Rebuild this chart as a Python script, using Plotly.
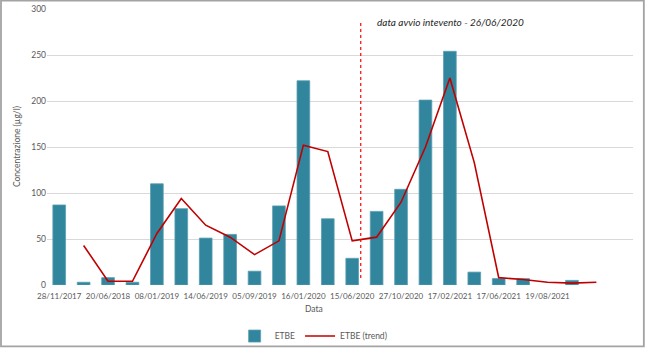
import plotly.graph_objects as go

# ETBE concentration per sampling campaign (µg/l); None = no measurement shown
etbe = [87, 3, 8, 3, 110, 83, 51, 55, 15, 86, 222, 72, 29, 80, 104, 201, 254,
        14, 7, 7, None, 5, None, None]
# trend series (moving average as plotted)
etbe_trend = [None, 43, 4, 4, 56, 94, 65, 52, 33, 48, 152, 145, 48, 52, 90,
              150, 225, 133, 8, 6, 3, 2, 3, None]
# sampling dates shown on the axis (every second campaign)
tick_labels = ["28/11/2017", "20/06/2018", "08/01/2019", "14/06/2019",
               "05/09/2019", "16/01/2020", "15/06/2020", "27/10/2020",
               "17/02/2021", "17/06/2021", "19/08/2021"]
tick_positions = list(range(0, 2 * len(tick_labels), 2))
positions = list(range(len(etbe)))

# start of remediation works: 26/06/2020 falls just after the 15/06/2020 campaign
start_pos = 12.35
start_label = "data avvio intevento - 26/06/2020"

FONT = "Lato, 'Open Sans', sans-serif"
GREY = "#595959"

fig = go.Figure()
fig.add_trace(go.Bar(
    x=positions, y=etbe, name="ETBE", width=0.52,
    marker=dict(color="#31859c", line=dict(color="#5a9fb1", width=0.8)),
))
fig.add_trace(go.Scatter(
    x=positions, y=etbe_trend, name="ETBE (trend)", mode="lines",
    line=dict(color="#c00000", width=1.6),
))

fig.update_layout(
    width=645, height=348,
    margin=dict(l=47, r=12, t=9, b=63, autoexpand=False),
    paper_bgcolor="white", plot_bgcolor="white",
    font=dict(family=FONT, size=8, color=GREY),
    showlegend=True,
    legend=dict(orientation="h", x=0.455, xanchor="center", y=-0.185,
                yanchor="middle", font=dict(size=8.5, color=GREY),
                itemwidth=30, bgcolor="rgba(0,0,0,0)"),
    xaxis=dict(range=[-0.5, len(etbe) - 0.5], tickmode="array",
               tickvals=tick_positions, ticktext=tick_labels,
               showgrid=False, zeroline=False, showline=False, ticks="",
               ticklabelstandoff=5, automargin=False,
               tickfont=dict(size=8, color=GREY), tickangle=0),
    yaxis=dict(range=[0, 300], tickvals=[0, 50, 100, 150, 200, 250, 300],
               showgrid=True, gridcolor="#d9d9d9", gridwidth=1,
               zeroline=False, showline=False, ticks="", automargin=False,
               tickfont=dict(size=8.5, color=GREY)),
    shapes=[
        dict(type="line", xref="x", yref="y", x0=start_pos, x1=start_pos,
             y0=7.5, y1=286, line=dict(color="#ff0000", width=1.2, dash="dot")),
        dict(type="rect", xref="paper", yref="paper",
             x0=-0.0785, x1=1.0185, y0=-0.2225, y1=1.0305,
             line=dict(color="#a3a3a3", width=1.8)),
    ],
    annotations=[
        dict(text=start_label, xref="x", yref="y", x=start_pos + 0.6, y=286,
             xanchor="left", yanchor="middle", showarrow=False,
             font=dict(family=FONT, size=10, color="#262626", style="italic")),
        dict(text="Data", xref="paper", yref="paper", x=0.456, y=-0.087,
             xanchor="center", yanchor="middle", showarrow=False,
             font=dict(size=8.5, color=GREY)),
        dict(text="Concentrazione (µg/l)", xref="paper", yref="paper",
             x=-0.051, y=0.5, xanchor="center", yanchor="middle",
             textangle=-90, showarrow=False,
             font=dict(size=8.5, color=GREY)),
    ],
)

fig.write_html("out.html")
